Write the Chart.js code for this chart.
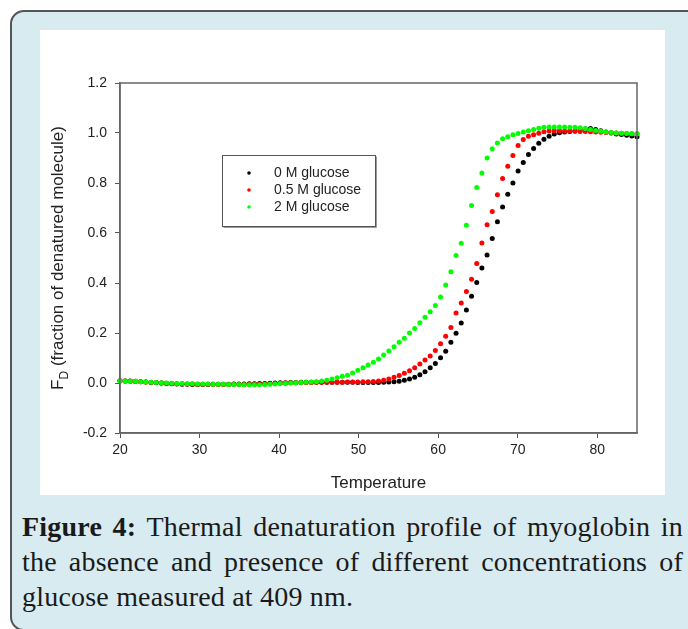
<!DOCTYPE html>
<html>
<head>
<meta charset="utf-8">
<script src="https://cdn.jsdelivr.net/npm/chart.js@4.4.1/dist/chart.umd.min.js"></script>
<style>
    html, body { margin: 0; padding: 0; background: #fff; overflow: hidden; width: 688px; height: 629px; }
    .frame {
        position: absolute; left: 10px; top: 10px; width: 720px; height: 617px;
        background: #d8ebf1; border: 2px solid #555; border-radius: 14px;
    }
    .panel {
        position: absolute; left: 40px; top: 30px; width: 625px; height: 465px; background: #fff;
    }
    .caption {
        position: absolute; left: 22px; top: 509px; width: 661px;
        font-family: 'Liberation Serif', serif; font-size: 28px; color: #1a1a1a;
        letter-spacing: 0.2px;
    }
    .caption div { height: 35px; line-height: 35px; white-space: nowrap; }
    .caption .just { text-align: justify; text-align-last: justify; }
</style>
</head>
<body>
<div class="frame"></div>
<div class="panel"><canvas id="fdChart" width="625" height="465"></canvas></div>
<div class="caption">
    <div class="just"><b>Figure 4:</b> Thermal denaturation profile of myoglobin in</div>
    <div class="just">the absence and presence of different concentrations of</div>
    <div>glucose measured at 409 nm.</div>
</div>
<script>
// Temperature grid (about 0.65 deg between points)
const temps = [
    20.00, 20.65, 21.30, 21.95, 22.60, 23.25, 23.90, 24.55, 25.20, 25.85,
    26.50, 27.15, 27.80, 28.45, 29.10, 29.75, 30.40, 31.05, 31.70, 32.35,
    33.00, 33.65, 34.30, 34.95, 35.60, 36.25, 36.90, 37.55, 38.20, 38.85,
    39.50, 40.15, 40.80, 41.45, 42.10, 42.75, 43.40, 44.05, 44.70, 45.35,
    46.00, 46.65, 47.30, 47.95, 48.60, 49.25, 49.90, 50.55, 51.20, 51.85,
    52.50, 53.15, 53.80, 54.45, 55.10, 55.75, 56.40, 57.05, 57.70, 58.35,
    59.00, 59.65, 60.30, 60.95, 61.60, 62.25, 62.90, 63.55, 64.20, 64.85,
    65.50, 66.15, 66.80, 67.45, 68.10, 68.75, 69.40, 70.05, 70.70, 71.35,
    72.00, 72.65, 73.30, 73.95, 74.60, 75.25, 75.90, 76.55, 77.20, 77.85,
    78.50, 79.15, 79.80, 80.45, 81.10, 81.75, 82.40, 83.05, 83.70, 84.35,
    85.00
];

// F_D, 0 M glucose (black)
const fd0M = [
    0.009, 0.008, 0.008, 0.007, 0.005, 0.004, 0.002, 0.001, 0.000, -0.002,
    -0.003, -0.004, -0.005, -0.005, -0.006, -0.006, -0.006, -0.006, -0.005, -0.005,
    -0.005, -0.005, -0.004, -0.004, -0.004, -0.003, -0.003, -0.002, -0.002, -0.001,
    0.000, 0.001, 0.001, 0.002, 0.002, 0.003, 0.003, 0.003, 0.003, 0.003,
    0.003, 0.003, 0.003, 0.003, 0.003, 0.003, 0.002, 0.002, 0.002, 0.002,
    0.002, 0.003, 0.004, 0.005, 0.007, 0.011, 0.016, 0.023, 0.033, 0.045,
    0.061, 0.078, 0.101, 0.127, 0.163, 0.199, 0.240, 0.292, 0.347, 0.402,
    0.460, 0.512, 0.578, 0.645, 0.704, 0.755, 0.800, 0.848, 0.882, 0.914,
    0.938, 0.959, 0.975, 0.987, 0.996, 1.001, 1.004, 1.006, 1.008, 1.012,
    1.016, 1.018, 1.014, 1.009, 1.004, 1.000, 0.996, 0.994, 0.991, 0.988,
    0.985
];

// F_D, 0.5 M glucose (red)
const fd05M = [
    0.008, 0.008, 0.007, 0.006, 0.005, 0.004, 0.003, 0.002, 0.000, -0.001,
    -0.002, -0.003, -0.003, -0.004, -0.004, -0.005, -0.005, -0.005, -0.005, -0.006,
    -0.006, -0.006, -0.006, -0.006, -0.006, -0.005, -0.005, -0.004, -0.004, -0.003,
    -0.002, -0.001, 0.000, 0.001, 0.001, 0.002, 0.002, 0.002, 0.003, 0.003,
    0.003, 0.003, 0.003, 0.003, 0.004, 0.004, 0.004, 0.005, 0.005, 0.006,
    0.008, 0.011, 0.016, 0.023, 0.030, 0.039, 0.049, 0.061, 0.076, 0.092,
    0.108, 0.130, 0.157, 0.187, 0.222, 0.280, 0.320, 0.366, 0.415, 0.478,
    0.560, 0.633, 0.686, 0.753, 0.818, 0.867, 0.910, 0.950, 0.974, 0.987,
    0.993, 0.999, 1.005, 1.008, 1.009, 1.009, 1.008, 1.008, 1.007, 1.006,
    1.006, 1.005, 1.004, 1.003, 1.002, 1.001, 1.000, 0.999, 0.998, 0.997,
    0.997
];

// F_D, 2 M glucose (green)
const fd2M = [
    0.008, 0.008, 0.007, 0.007, 0.005, 0.004, 0.003, 0.002, 0.001, 0.000,
    -0.001, -0.002, -0.002, -0.003, -0.003, -0.004, -0.004, -0.004, -0.005, -0.005,
    -0.005, -0.006, -0.006, -0.006, -0.007, -0.007, -0.007, -0.007, -0.006, -0.005,
    -0.004, -0.002, -0.001, 0.000, 0.001, 0.002, 0.003, 0.004, 0.005, 0.008,
    0.011, 0.016, 0.021, 0.027, 0.031, 0.040, 0.051, 0.061, 0.072, 0.083,
    0.096, 0.112, 0.128, 0.145, 0.163, 0.179, 0.200, 0.218, 0.241, 0.263,
    0.285, 0.310, 0.344, 0.392, 0.445, 0.510, 0.559, 0.631, 0.710, 0.782,
    0.840, 0.900, 0.937, 0.960, 0.977, 0.985, 0.993, 0.998, 1.004, 1.009,
    1.014, 1.019, 1.023, 1.024, 1.024, 1.024, 1.024, 1.023, 1.023, 1.021,
    1.018, 1.014, 1.010, 1.007, 1.004, 1.002, 1.000, 0.999, 0.998, 0.997,
    0.996
];

const seriesLabels = ['0 M glucose', '0.5 M glucose', '2 M glucose'];
const xTicks = [20, 30, 40, 50, 60, 70, 80];
const yTicks = [-0.2, 0.0, 0.2, 0.4, 0.6, 0.8, 1.0, 1.2];

const FONT = "'Liberation Sans', Arial, sans-serif";

function toPoints(values) {
    return temps.map((t, i) => ({ x: t, y: values[i] }));
}

// box round the plot, axis titles and the legend box
const decorations = {
    id: 'decorations',
    afterDraw(chart) {
        const { ctx, chartArea: a } = chart;
        ctx.save();

        ctx.strokeStyle = '#666';
        ctx.lineWidth = 1.5;
        ctx.strokeRect(a.left, a.top, a.right - a.left, a.bottom - a.top);

        ctx.fillStyle = '#222';
        ctx.font = '17px ' + FONT;
        ctx.textAlign = 'center';
        ctx.textBaseline = 'middle';
        ctx.fillText('Temperature', (a.left + a.right) / 2, a.bottom + 50);

        // y title with subscript D
        const main = ' (fraction of denatured molecule)';
        ctx.font = '17px ' + FONT;
        const wF = ctx.measureText('F').width;
        const wMain = ctx.measureText(main).width;
        ctx.font = '12px ' + FONT;
        const wD = ctx.measureText('D').width;
        const total = wF + wD + wMain;
        ctx.translate(23, (a.top + a.bottom) / 2);
        ctx.rotate(-Math.PI / 2);
        ctx.textAlign = 'left';
        ctx.textBaseline = 'alphabetic';
        let x = -total / 2;
        ctx.font = '17px ' + FONT;
        ctx.fillText('F', x, 0);
        x += wF;
        ctx.font = '12px ' + FONT;
        ctx.fillText('D', x, 5);
        x += wD;
        ctx.font = '17px ' + FONT;
        ctx.fillText(main, x, 0);
        ctx.restore();

        // legend box
        ctx.save();
        const bx = a.left + 102, by = a.top + 72, bw = 154, bh = 72;
        ctx.fillStyle = '#fff';
        ctx.fillRect(bx, by, bw, bh);
        ctx.strokeStyle = '#999';
        ctx.lineWidth = 1;
        ctx.beginPath();
        ctx.moveTo(bx + 1.5, by + bh + 0.5);
        ctx.lineTo(bx + bw + 0.5, by + bh + 0.5);
        ctx.lineTo(bx + bw + 0.5, by + 1.5);
        ctx.stroke();
        ctx.strokeStyle = '#555';
        ctx.strokeRect(bx + 0.5, by + 0.5, bw - 1, bh - 1);
        ctx.font = '14px ' + FONT;
        ctx.textAlign = 'left';
        ctx.textBaseline = 'middle';
        chart.data.datasets.forEach((ds, i) => {
            const yy = by + 18 + i * 17;
            ctx.fillStyle = ds.backgroundColor;
            ctx.beginPath();
            ctx.arc(bx + 27, yy, 1.8, 0, Math.PI * 2);
            ctx.fill();
            ctx.fillStyle = '#222';
            ctx.fillText(ds.label, bx + 52, yy);
        });
        ctx.restore();
    }
};

new Chart(document.getElementById('fdChart'), {
    type: 'scatter',
    data: {
        datasets: [
            { label: seriesLabels[0], data: toPoints(fd0M), backgroundColor: '#000000', order: 2 },
            { label: seriesLabels[1], data: toPoints(fd05M), backgroundColor: '#ff0000', order: 1 },
            { label: seriesLabels[2], data: toPoints(fd2M), backgroundColor: '#00ff00', order: 0 }
        ]
    },
    options: {
        responsive: false,
        animation: false,
        layout: { padding: { left: 0, right: 28, top: 53, bottom: 0 } },
        datasets: {
            scatter: { pointRadius: 2.5, pointBorderWidth: 0, pointHoverRadius: 2.5, clip: false }
        },
        scales: {
            x: {
                type: 'linear',
                min: 20,
                max: 85,
                afterBuildTicks: (scale) => { scale.ticks = xTicks.map(v => ({ value: v })); },
                afterFit: (scale) => { scale.height = 62; },
                ticks: { color: '#222', font: { family: FONT, size: 14 }, padding: 4, maxRotation: 0 },
                grid: { drawOnChartArea: false, tickLength: 5, color: '#555' },
                border: { color: '#666', width: 1.5 }
            },
            y: {
                min: -0.2,
                max: 1.2,
                afterBuildTicks: (scale) => { scale.ticks = yTicks.map(v => ({ value: v })); },
                afterFit: (scale) => { scale.width = 80; },
                ticks: {
                    color: '#222',
                    font: { family: FONT, size: 14 },
                    padding: 8,
                    callback: (v) => v.toFixed(1)
                },
                grid: { drawOnChartArea: false, tickLength: 5, color: '#555' },
                border: { color: '#666', width: 1.5 }
            }
        },
        plugins: {
            legend: { display: false },
            tooltip: { enabled: false }
        }
    },
    plugins: [decorations]
});
</script>
</body>
</html>
